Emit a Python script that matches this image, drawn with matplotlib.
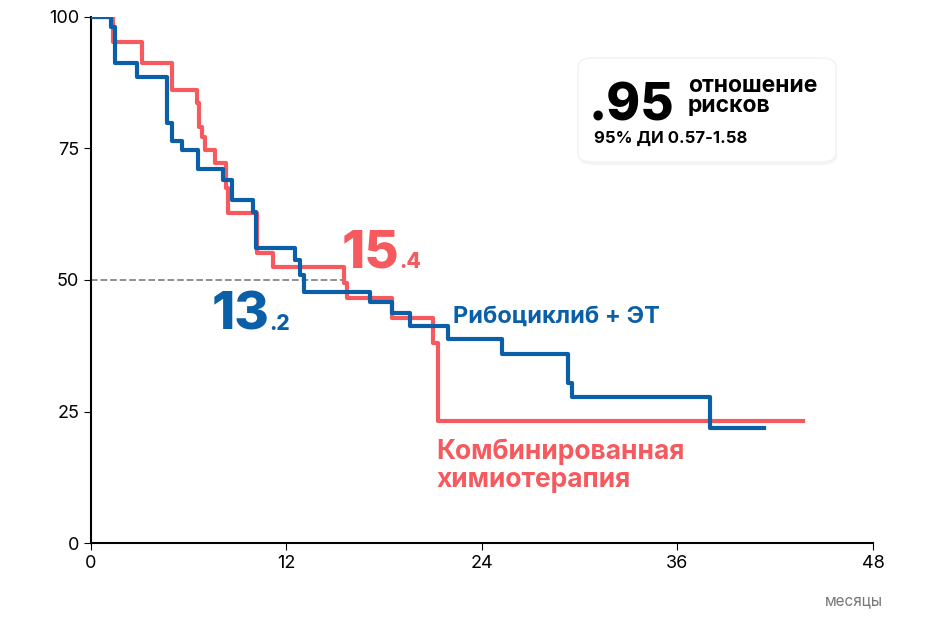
import matplotlib
matplotlib.use("Agg")
import matplotlib.pyplot as plt
from matplotlib.patches import FancyBboxPatch

blue_t = [0, 1.23, 1.5, 2.8, 4.67, 4.97, 5.6, 6.57, 8.1, 8.65, 9.94, 10.1, 12.5, 12.8, 13.1, 17.1, 18.5, 19.6, 21.9, 25.2, 29.3, 29.5, 38.0, 41.3]
blue_s = [100, 98, 91.2, 88.6, 79.8, 76.3, 74.6, 71.1, 69, 65.2, 63, 56, 53.8, 51, 47.7, 45.8, 43.7, 41.2, 38.8, 35.9, 30.4, 27.8, 21.9, 21.9]
red_t = [0, 1.35, 3.1, 4.95, 6.5, 6.65, 6.8, 7.0, 7.6, 8.3, 8.4, 10.2, 11.2, 15.5, 15.7, 18.5, 21.0, 21.3, 43.7]
red_s = [100, 95.2, 91.2, 86, 83.6, 79, 77.2, 74.6, 72.2, 67.5, 62.7, 55.1, 52.5, 49.4, 46.6, 42.8, 38, 23.2, 23.2]
xticks = [0, 12, 24, 36, 48]
yticks = [0, 25, 50, 75, 100]

BLUE = "#0a5fa8"
RED = "#f65a5e"
plt.rcParams['font.family'] = ['Inter', 'DejaVu Sans']
fig = plt.figure(figsize=(9.46, 6.2), dpi=100)
ax = fig.add_axes([0.0962, 0.124, 0.8266, 0.849])
ax.step(red_t, red_s, where='post', color=RED, lw=3, zorder=3)
ax.step(blue_t, blue_s, where='post', color=BLUE, lw=3, zorder=4)
ax.plot([0, 15.5], [50, 50], ls='--', color='#888888', lw=1.3, zorder=2)
ax.set_xlim(0, 48)
ax.set_ylim(0, 100)
ax.set_xticks(xticks)
ax.set_yticks(yticks)
ax.tick_params(labelsize=13, length=5)
for s in ['top', 'right']:
    ax.spines[s].set_visible(False)
ax.spines['left'].set_linewidth(1.5)
ax.spines['bottom'].set_linewidth(1.5)

ax.text(7.4, 40.5, "13", color=BLUE, fontsize=38, fontweight='heavy', ha='left', va='baseline')
ax.text(10.95, 40.5, ".2", color=BLUE, fontsize=15, fontweight='heavy', ha='left', va='baseline')
ax.text(15.4, 52.3, "15", color=RED, fontsize=38, fontweight='heavy', ha='left', va='baseline')
ax.text(18.95, 52.3, ".4", color=RED, fontsize=15, fontweight='heavy', ha='left', va='baseline')
ax.text(22.2, 41.8, "Рибоциклиб + ЭТ", color=BLUE, fontsize=17, fontweight='bold')
ax.text(21.2, 10.6, "Комбинированная\nхимиотерапия", color=RED, fontsize=19, fontweight='bold', linespacing=1.1)
ax.text(48.6, -11, "месяцы", color='#777777', fontsize=11, ha='right', va='center')

shadow = FancyBboxPatch((579/946, 1-165/620), 258/946, 104/620, boxstyle="round,pad=0,rounding_size=0.015",
                     transform=fig.transFigure, facecolor='#ececec', edgecolor='none', alpha=0.5, zorder=4)
box = FancyBboxPatch((578/946, 1-162/620), 258/946, 104/620, boxstyle="round,pad=0,rounding_size=0.015",
                     transform=fig.transFigure, facecolor='white', edgecolor='#f2f2f2', lw=1, zorder=5)
fig.patches.extend([shadow, box])
fig.text(589/946, 1-120/620, ".95", fontsize=37, fontweight='heavy', color='black', zorder=6)
fig.text(688/946, 1-92/620, "отношение", fontsize=16.5, fontweight='bold', color='black', zorder=6)
fig.text(688/946, 1-112/620, "рисков", fontsize=16.5, fontweight='bold', color='black', zorder=6)
fig.text(594/946, 1-143/620, "95% ДИ 0.57-1.58", fontsize=12, fontweight='bold', color='black', zorder=6)
fig.savefig("out.png", dpi=100)
